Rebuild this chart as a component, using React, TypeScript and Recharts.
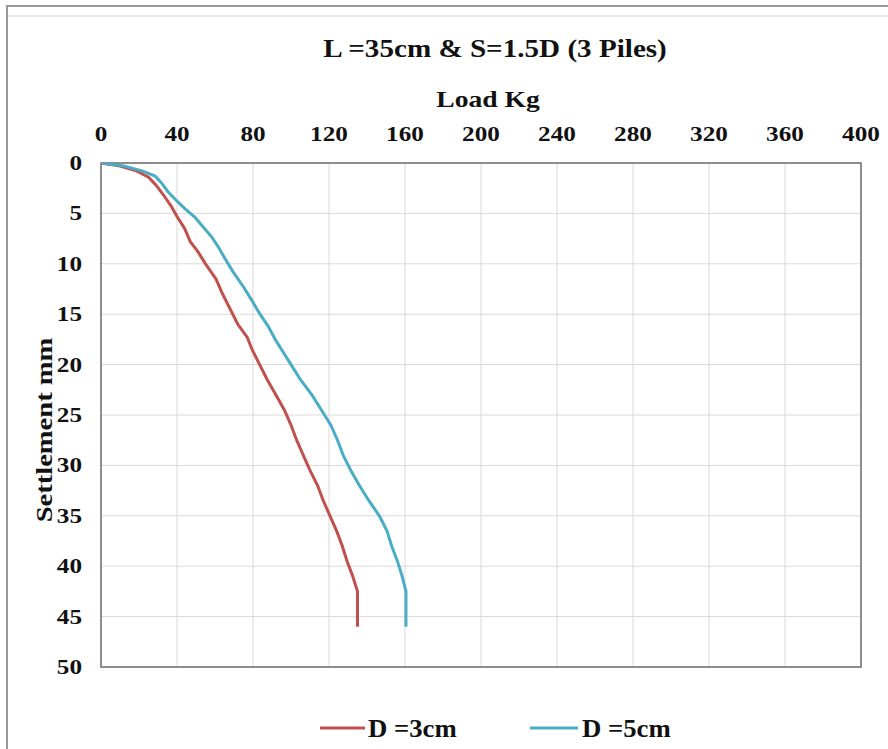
import {
    LineChart,
    Line,
    XAxis,
    YAxis,
    CartesianGrid,
    ReferenceArea,
} from 'recharts';

// D = 3cm curve (settlement mm -> load kg)
const settleD3 = [0, 0.3, 0.8, 1.4, 2.2, 3.2, 4.3, 5.3, 6.5, 7.8, 8.8, 10, 11.5, 13, 14.5, 16, 17.3, 18.5, 20, 21.5, 23, 24.5, 26, 27.5, 29, 30.5, 32, 33.5, 35, 36.5, 38, 39.5, 41, 42.5, 44, 46];
const loadD3 = [0, 10, 19, 25, 29, 33, 37, 40, 44, 47, 51, 55, 60.5, 64, 68, 72, 77, 79.5, 83.5, 87.5, 92, 96.5, 100, 103, 106.5, 110, 114, 117, 120.5, 124, 127, 129.5, 132.5, 135, 135, 135];

// D = 5cm curve
const settleD5 = [0, 0.3, 0.8, 1.3, 2, 2.8, 3.6, 4.5, 5.4, 6.4, 7.4, 8.4, 9.4, 10.8, 12.3, 13.5, 14.8, 16.2, 17.6, 18.8, 20, 21.5, 23, 24.5, 26, 27.5, 29, 30.5, 32, 33.5, 35, 36.5, 38, 39.5, 41, 42.5, 44, 46];
const loadD5 = [0, 12, 22, 28.5, 32, 35, 39, 44, 49.5, 54, 58.5, 62, 65, 69.5, 75, 79, 83, 88, 92, 96, 100, 105, 111, 116, 121, 124.5, 127.5, 131.5, 136, 141, 146.5, 150.5, 153, 156, 158.5, 160.5, 160.5, 160.5];

const loadTicks = [0, 40, 80, 120, 160, 200, 240, 280, 320, 360, 400];
const settleTicks = [0, 5, 10, 15, 20, 25, 30, 35, 40, 45, 50];

const seriesNames = ['D =3cm', 'D =5cm'];
const seriesColors = ['#c0504d', '#4bacc6'];

const d3Data = settleD3.map((s, i) => ({ load: loadD3[i], settlement: s }));
const d5Data = settleD5.map((s, i) => ({ load: loadD5[i], settlement: s }));

const FONT = '"Liberation Serif", "Times New Roman", serif';

function XTick({ x, y, payload }: any) {
    return (
        <text
            transform={`translate(${x},${y}) scale(1.2,1)`}
            textAnchor="middle"
            fontFamily={FONT}
            fontWeight="bold"
            fontSize={21}
            fill="#111"
        >
            {payload.value}
        </text>
    );
}

function YTick({ x, y, payload }: any) {
    return (
        <text
            transform={`translate(${x},${y + 7}) scale(1.2,1)`}
            textAnchor="end"
            fontFamily={FONT}
            fontWeight="bold"
            fontSize={21}
            fill="#111"
        >
            {payload.value}
        </text>
    );
}

export default function App() {
    return (
        <div style={{ position: 'absolute', left: 0, top: 0, width: 888, height: 749, background: '#fff' }}>
            <LineChart
                width={888}
                height={749}
                margin={{ top: 133, right: 27, bottom: 82, left: 61 }}
            >
                <CartesianGrid stroke="#d9d9d9" strokeWidth={1} />
                <XAxis
                    type="number"
                    dataKey="load"
                    orientation="top"
                    domain={[0, 400]}
                    ticks={loadTicks}
                    height={30}
                    axisLine={false}
                    tickLine={false}
                    tickMargin={16}
                    tick={<XTick />}
                    allowDataOverflow
                />
                <YAxis
                    type="number"
                    dataKey="settlement"
                    domain={[0, 50]}
                    ticks={settleTicks}
                    reversed
                    width={40}
                    axisLine={false}
                    tickLine={false}
                    tickMargin={13}
                    tick={<YTick />}
                    allowDataOverflow
                />
                <ReferenceArea
                    x1={0}
                    x2={400}
                    y1={0}
                    y2={50}
                    fill="none"
                    stroke="#6e6e6e"
                    strokeWidth={1.5}
                />
                <Line
                    data={d3Data}
                    dataKey="settlement"
                    type="linear"
                    stroke={seriesColors[0]}
                    strokeWidth={3}
                    dot={false}
                    name={seriesNames[0]}
                    isAnimationActive={false}
                />
                <Line
                    data={d5Data}
                    dataKey="settlement"
                    type="linear"
                    stroke={seriesColors[1]}
                    strokeWidth={3}
                    dot={false}
                    name={seriesNames[1]}
                    isAnimationActive={false}
                />
            </LineChart>

            {/* titles, axis label, legend and outer frame */}
            <svg
                width={888}
                height={749}
                style={{ position: 'absolute', left: 0, top: 0, pointerEvents: 'none' }}
                fontFamily={FONT}
                fontWeight="bold"
                fill="#111"
            >
                <line x1={6} y1={6} x2={888} y2={6} stroke="#9a9a9a" strokeWidth={2} />
                <line x1={7} y1={6} x2={7} y2={749} stroke="#9a9a9a" strokeWidth={2} />
                <line x1={8} y1={16} x2={888} y2={16} stroke="#d4d4d4" strokeWidth={1} />

                <text transform="translate(495,57) scale(1.12,1)" textAnchor="middle" fontSize={26}>
                    L =35cm &amp; S=1.5D (3 Piles)
                </text>
                <text transform="translate(488,107) scale(1.2,1)" textAnchor="middle" fontSize={23}>
                    Load Kg
                </text>
                <text transform="translate(52,430) rotate(-90) scale(1.19,1)" textAnchor="middle" fontSize={24}>
                    Settlement mm
                </text>

                <line x1={320} y1={728} x2={365} y2={728} stroke={seriesColors[0]} strokeWidth={3} />
                <text transform="translate(368,737) scale(1.07,1)" fontSize={25}>
                    {seriesNames[0]}
                </text>
                <line x1={530} y1={728} x2={578} y2={728} stroke={seriesColors[1]} strokeWidth={3} />
                <text transform="translate(582,737) scale(1.07,1)" fontSize={25}>
                    {seriesNames[1]}
                </text>
            </svg>
        </div>
    );
}
